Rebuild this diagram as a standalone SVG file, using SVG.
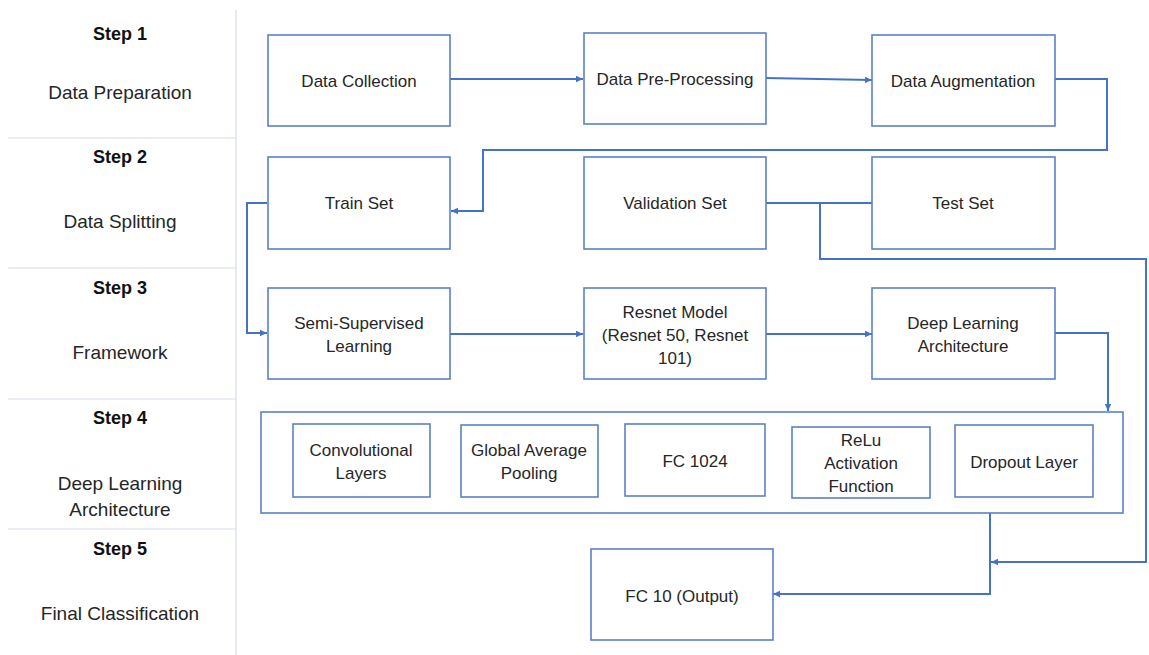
<svg xmlns="http://www.w3.org/2000/svg" width="1149" height="655" viewBox="0 0 1149 655">
<defs>
<style>
.box{fill:#fff;stroke:#5b80c8;stroke-width:1.6}
.t{font-family:"Liberation Sans",Arial,sans-serif;font-size:17px;fill:#262626;text-anchor:middle;dominant-baseline:central}
.lt{font-family:"Liberation Sans",Arial,sans-serif;font-size:19px;fill:#262626;text-anchor:middle;dominant-baseline:central}
.st{font-family:"Liberation Sans",Arial,sans-serif;font-size:18px;font-weight:bold;fill:#111;text-anchor:middle;dominant-baseline:central}
.sep{stroke:#d5dceb;stroke-width:1.2}
.c{fill:none;stroke:#4472c4;stroke-width:2}
</style>
<marker id="ah" markerWidth="8" markerHeight="8" refX="7" refY="4" orient="auto" markerUnits="userSpaceOnUse">
<path d="M0,0.8 L7,4 L0,7.2 z" fill="#4472c4"/>
</marker>
</defs>
<rect width="1149" height="655" fill="#fff"/>
<g id="steps">
<line class="sep" x1="236" y1="10" x2="236" y2="655"/>
<line class="sep" x1="8" y1="138" x2="236" y2="138"/>
<line class="sep" x1="8" y1="268" x2="236" y2="268"/>
<line class="sep" x1="8" y1="399" x2="236" y2="399"/>
<line class="sep" x1="8" y1="529" x2="236" y2="529"/>
<text class="st" x="120" y="34">Step 1</text>
<text class="lt" x="120" y="92">Data Preparation</text>
<text class="st" x="120" y="157">Step 2</text>
<text class="lt" x="120" y="221">Data Splitting</text>
<text class="st" x="120" y="288">Step 3</text>
<text class="lt" x="120" y="352">Framework</text>
<text class="st" x="120" y="418">Step 4</text>
<text class="lt" x="120" y="483">Deep Learning</text>
<text class="lt" x="120" y="509">Architecture</text>
<text class="st" x="120" y="549">Step 5</text>
<text class="lt" x="120" y="613">Final Classification</text>
</g>
<g id="connectors">
<line class="c" x1="450" y1="79" x2="583" y2="79" marker-end="url(#ah)"/>
<line class="c" x1="766" y1="78" x2="872" y2="80" marker-end="url(#ah)"/>
<polyline class="c" points="1055,79 1107,79 1107,150 483,150 483,211 451,211" marker-end="url(#ah)"/>
<line class="c" x1="766" y1="203" x2="872" y2="203"/>
<polyline class="c" points="820,203 820,259 1146,259 1146,562 991,562" marker-end="url(#ah)"/>
<polyline class="c" points="267,203 247,203 247,333 267,333" marker-end="url(#ah)"/>
<line class="c" x1="450" y1="334" x2="583" y2="334" marker-end="url(#ah)"/>
<line class="c" x1="766" y1="334" x2="872" y2="334" marker-end="url(#ah)"/>
<polyline class="c" points="1055,333 1108,333 1108,411" marker-end="url(#ah)"/>
<polyline class="c" points="990,513 990,594 773,594" marker-end="url(#ah)"/>
</g>
<g id="data-collection"><rect class="box" x="268" y="35" width="182" height="91"/><text class="t" x="359" y="81">Data Collection</text></g>
<g id="data-preprocessing"><rect class="box" x="584" y="33" width="182" height="91"/><text class="t" x="675" y="79">Data Pre-Processing</text></g>
<g id="data-augmentation"><rect class="box" x="872" y="35" width="183" height="91"/><text class="t" x="963" y="81">Data Augmentation</text></g>
<g id="train-set"><rect class="box" x="268" y="157" width="182" height="92"/><text class="t" x="359" y="203">Train Set</text></g>
<g id="validation-set"><rect class="box" x="584" y="157" width="182" height="92"/><text class="t" x="675" y="203">Validation Set</text></g>
<g id="test-set"><rect class="box" x="872" y="157" width="183" height="92"/><text class="t" x="963" y="203">Test Set</text></g>
<g id="semi-supervised"><rect class="box" x="268" y="288" width="182" height="91"/><text class="t" x="359" y="323">Semi-Supervised</text><text class="t" x="359" y="346">Learning</text></g>
<g id="resnet-model"><rect class="box" x="584" y="288" width="182" height="91"/><text class="t" x="675" y="312">Resnet Model</text><text class="t" x="675" y="335">(Resnet 50, Resnet</text><text class="t" x="675" y="358">101)</text></g>
<g id="deep-learning-architecture"><rect class="box" x="872" y="288" width="183" height="91"/><text class="t" x="963" y="323">Deep Learning</text><text class="t" x="963" y="346">Architecture</text></g>
<g id="architecture-container"><rect class="box" x="261" y="412" width="862" height="101"/></g>
<g id="convolutional-layers"><rect class="box" x="293" y="424" width="137" height="73"/><text class="t" x="361" y="450">Convolutional</text><text class="t" x="361" y="473">Layers</text></g>
<g id="global-average-pooling"><rect class="box" x="461" y="425" width="137" height="72"/><text class="t" x="529" y="450">Global Average</text><text class="t" x="529" y="473">Pooling</text></g>
<g id="fc-1024"><rect class="box" x="625" y="424" width="140" height="72"/><text class="t" x="695" y="461">FC 1024</text></g>
<g id="relu"><rect class="box" x="792" y="427" width="138" height="71"/><text class="t" x="861" y="440">ReLu</text><text class="t" x="861" y="463">Activation</text><text class="t" x="861" y="486">Function</text></g>
<g id="dropout-layer"><rect class="box" x="955" y="425" width="138" height="72"/><text class="t" x="1024" y="462">Dropout Layer</text></g>
<g id="fc-10"><rect class="box" x="591" y="549" width="182" height="91"/><text class="t" x="682" y="596">FC 10 (Output)</text></g>
</svg>
